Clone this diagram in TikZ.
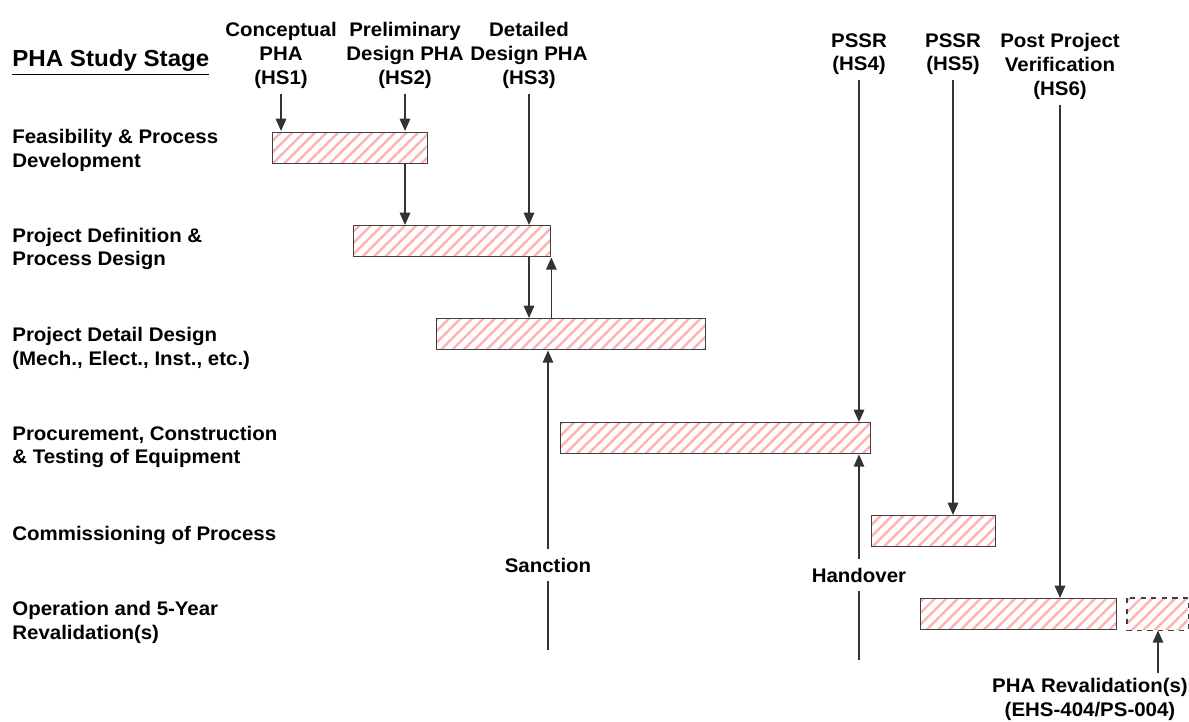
\documentclass[tikz,border=0pt]{standalone}
\usepackage{fontspec}
\setmainfont{Liberation Sans}[FakeStretch=1.04]
\usetikzlibrary{arrows.meta,patterns.meta}
\tikzset{
  txt/.style={font=\bfseries\fontsize{11.2}{13.6}\selectfont, inner sep=0pt},
  phase/.style={txt, align=center, anchor=north, outer sep=3pt},
  stage/.style={txt, align=left, anchor=west},
  event/.style={txt, outer sep=5pt},
  bar/.style={draw=black!75, line width=0.8pt, anchor=north west, inner sep=0pt,
    minimum height=0.62cm, pattern={Lines[angle=45,distance=4.6pt,line width=1.4pt]},
    pattern color=red!30},
  arr/.style={draw=black!80, line width=0.8pt, -{Triangle[width=6pt,length=7pt]}},
  plain/.style={draw=black!80, line width=0.8pt}
}
\begin{document}
\begin{tikzpicture}[x=0.02cm, y=-0.02cm]
    \useasboundingbox (0,0) rectangle (1189,722);
    % title and stages
    \node[txt, anchor=base west, font=\bfseries\fontsize{13.2}{15}\selectfont] (title) at (12,67) {\underline{PHA Study Stage}};
    \node[stage] (s1) at (12,150) {Feasibility \& Process\\Development};
    \node[stage] (s2) at (12,249) {Project Definition \&\\Process Design};
    \node[stage] (s3) at (12,348) {Project Detail Design\\(Mech., Elect., Inst., etc.)};
    \node[stage] (s4) at (12,447) {Procurement, Construction\\\& Testing of Equipment};
    \node[stage] (s5) at (12,535) {Commissioning of Process};
    \node[stage] (s6) at (12,622) {Operation and 5-Year\\Revalidation(s)};
    % bars
    \node[bar, minimum width=3.10cm] (feas) at (271,131) {};
    \node[bar, minimum width=3.94cm] (pdef) at (353,225) {};
    \node[bar, minimum width=5.38cm] (ddes) at (436,318) {};
    \node[bar, minimum width=6.20cm] (proc) at (560,422) {};
    \node[bar, minimum width=2.48cm] (comm) at (871,515) {};
    \node[bar, minimum width=3.92cm] (oper) at (920,598) {};
    \node[bar, minimum width=1.20cm, draw=none] (reval) at (1127,598) {};
    \draw[plain, draw=black!75, dashed] (reval.north west) rectangle (reval.south east);
    % PHA studies
    \node[phase] (hs1) at (281,17) {Conceptual\\PHA\\(HS1)};
    \node[phase] (hs2) at (405,17) {Preliminary\\Design PHA\\(HS2)};
    \node[phase] (hs3) at (529,17) {Detailed\\Design PHA\\(HS3)};
    \node[phase] (hs4) at (859,28) {PSSR\\(HS4)};
    \node[phase] (hs5) at (953,28) {PSSR\\(HS5)};
    \node[phase] (hs6) at (1060,28) {Post Project\\Verification\\(HS6)};
    \node[phase] (hsr) at (1090,673) {PHA Revalidation(s)\\(EHS-404/PS-004)};
    \draw[arr] (hs1) -- (hs1 |- feas.north);
    \draw[arr] (hs2) -- (hs2 |- feas.north);
    \draw[arr] (feas.south -| hs2) -- (hs2 |- pdef.north);
    \draw[arr] (hs3) -- (hs3 |- pdef.north);
    \draw[arr] (pdef.south -| hs3) -- (hs3 |- ddes.north);
    \draw[arr] (ddes.north -| pdef.south east) -- (pdef.south east);
    \draw[arr] (hs4) -- (hs4 |- proc.north);
    \draw[arr] (hs5) -- (hs5 |- comm.north);
    \draw[arr] (hs6) -- (hs6 |- oper.north);
    \draw[arr] (hsr.north -| 1158,0) -- (reval.south -| 1158,0);
    % milestones
    \node[event] (sanction) at (548,565) {Sanction};
    \node[event] (handover) at (859,575) {Handover};
    \coordinate (sanctionEnd) at (548,650);
    \coordinate (handoverEnd) at (859,660);
    \draw[arr] (sanction) -- (sanction |- ddes.south);
    \draw[plain] (sanction) -- (sanctionEnd);
    \draw[arr] (handover) -- (handover |- proc.south);
    \draw[plain] (handover) -- (handoverEnd);
\end{tikzpicture}
\end{document}
